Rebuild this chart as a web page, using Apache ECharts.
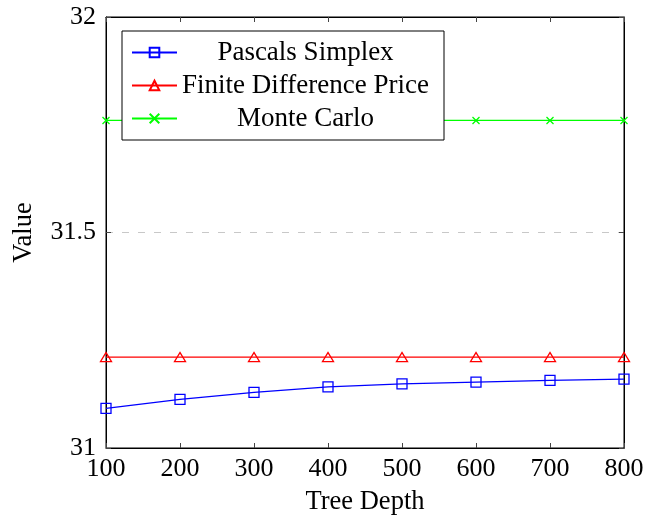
<!DOCTYPE html>
<html>
<head>
<meta charset="utf-8">
<script src="https://cdn.jsdelivr.net/npm/echarts@6/dist/echarts.min.js"></script>
<style>html,body{margin:0;padding:0;background:#fff}#c{width:657px;height:516px}</style>
</head>
<body>
<div id="c"></div>
<script>
const depths = [100, 200, 300, 400, 500, 600, 700, 800];
const pascalsSimplex = [31.092, 31.113, 31.129, 31.142, 31.149, 31.153, 31.157, 31.160];
const finiteDifference = [31.211, 31.211, 31.211, 31.211, 31.211, 31.211, 31.211, 31.211];
const monteCarlo = [31.760, 31.760, 31.760, 31.760, 31.760, 31.760, 31.760, 31.760];
const seriesNames = ['Pascals Simplex', 'Finite Difference Price', 'Monte Carlo'];

const pair = (vals) => depths.map((d, i) => [d, vals[i]]);
const font = '"Liberation Serif", "DejaVu Serif", serif';
const chart = echarts.init(document.getElementById('c'));
const crossPath = 'path://M0,0L10,10M10,0L0,10';

chart.setOption({
  animation: false,
  backgroundColor: '#fff',
  textStyle: { fontFamily: font },
  grid: { left: 106, right: 33, top: 17, bottom: 68, show: true, borderColor: '#000', borderWidth: 1,
          backgroundColor: 'transparent', containLabel: false, outerBoundsMode: 'none' },
  legend: {
    orient: 'vertical', left: 122, top: 31,
    backgroundColor: '#fff', borderColor: '#000', borderWidth: 1,
    padding: [8, 15, 8, 9],
    itemWidth: 45, itemHeight: 12, itemGap: 6,
    data: seriesNames,
    formatter: (n) => '{a|' + n + '}',
    textStyle: {
      fontFamily: font, fontSize: 27, color: '#000',
      rich: { a: { width: 247, align: 'center', fontFamily: font, fontSize: 27, lineHeight: 29, color: '#000' } }
    }
  },
  xAxis: [{
    type: 'value', min: 100, max: 800, interval: 100,
    name: 'Tree Depth', nameLocation: 'middle', nameGap: 41,
    nameTextStyle: { fontFamily: font, fontSize: 26.5, color: '#000' },
    axisLine: { show: true, lineStyle: { color: '#000', width: 1 } },
    axisTick: { show: true, inside: true, length: 5, lineStyle: { color: '#444' } },
    axisLabel: { fontFamily: font, fontSize: 26, color: '#000', margin: 8 },
    splitLine: { show: false }
  }, {
    type: 'value', min: 100, max: 800, interval: 100, position: 'top',
    axisLine: { show: true, lineStyle: { color: '#000', width: 1 } },
    axisTick: { show: true, inside: true, length: 5, lineStyle: { color: '#444' } },
    axisLabel: { show: false }, splitLine: { show: false }
  }],
  yAxis: [{
    type: 'value', min: 31, max: 32, interval: 0.5,
    name: 'Value', nameLocation: 'middle', nameGap: 68,
    nameTextStyle: { fontFamily: font, fontSize: 26.5, color: '#000' },
    axisLine: { show: true, lineStyle: { color: '#000', width: 1 } },
    axisTick: { show: true, inside: true, length: 5, lineStyle: { color: '#444' } },
    axisLabel: { fontFamily: font, fontSize: 26, color: '#000', margin: 10 },
    splitLine: { show: true, lineStyle: { color: '#c8c8c8', type: [7, 9], width: 1.2 } }
  }, {
    type: 'value', min: 31, max: 32, interval: 0.5, position: 'right',
    axisLine: { show: true, lineStyle: { color: '#000', width: 1 } },
    axisTick: { show: true, inside: true, length: 5, lineStyle: { color: '#444' } },
    axisLabel: { show: false }, splitLine: { show: false }
  }],
  series: [{
    name: seriesNames[0], type: 'line', data: pair(pascalsSimplex),
    symbol: 'rect', symbolSize: 10, showSymbol: true,
    lineStyle: { color: '#0000ff', width: 1.2 },
    itemStyle: { color: 'rgba(255,255,255,0)', borderColor: '#0000ff', borderWidth: 1.3 }
  }, {
    name: seriesNames[1], type: 'line', data: pair(finiteDifference),
    symbol: 'triangle', symbolSize: [11, 9],
    lineStyle: { color: '#ff0000', width: 1.3 },
    itemStyle: { color: 'rgba(255,255,255,0)', borderColor: '#ff0000', borderWidth: 1.3 }
  }, {
    name: seriesNames[2], type: 'line', data: pair(monteCarlo),
    symbol: crossPath, symbolSize: 7, symbolKeepAspect: true,
    lineStyle: { color: '#00ff00', width: 1.2 },
    itemStyle: { color: 'rgba(255,255,255,0)', borderColor: '#00ff00', borderWidth: 1.3 }
  }]
});
</script>
</body>
</html>
